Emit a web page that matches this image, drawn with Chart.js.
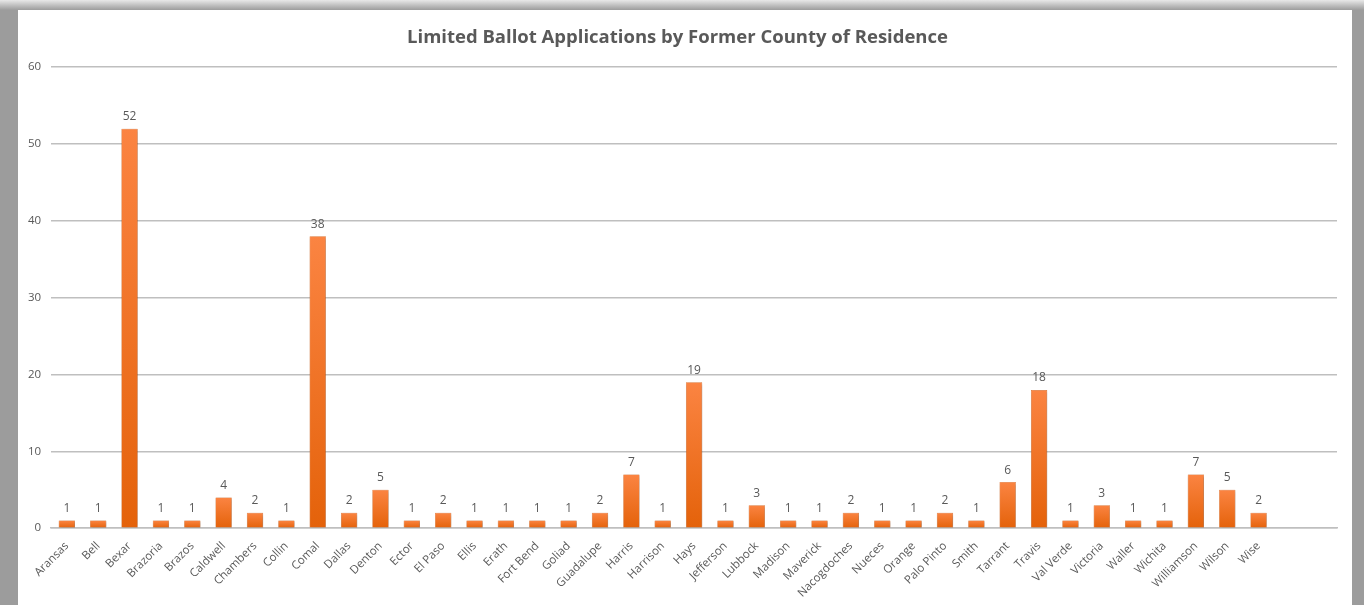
<!DOCTYPE html>
<html lang="en">
<head>
    <meta charset="UTF-8">
    <title>Limited Ballot Applications by Former County of Residence</title>
    <style>
        body {
            margin: 0;
            width: 1364px;
            height: 605px;
            overflow: hidden;
            background: #9c9c9c;
            font-family: 'Open Sans', sans-serif;
        }

        .top-shade {
            position: absolute;
            left: 0;
            top: 0;
            width: 1364px;
            height: 10px;
            background: linear-gradient(#e8e8e8, #9c9c9c);
        }

        .frame {
            position: absolute;
            left: 18px;
            top: 10px;
            width: 1334px;
            height: 595px;
            background: white;
        }
    </style>
    <script src="https://cdn.jsdelivr.net/npm/chart.js"></script>
</head>
<body>
    <div class="top-shade"></div>
    <div class="frame">
        <canvas id="countyChart" width="1334" height="595"></canvas>
    </div>

    <script>
        const counties = ['Aransas', 'Bell', 'Bexar', 'Brazoria', 'Brazos', 'Caldwell', 'Chambers', 'Collin',
            'Comal', 'Dallas', 'Denton', 'Ector', 'El Paso', 'Ellis', 'Erath', 'Fort Bend', 'Goliad',
            'Guadalupe', 'Harris', 'Harrison', 'Hays', 'Jefferson', 'Lubbock', 'Madison', 'Maverick',
            'Nacogdoches', 'Nueces', 'Orange', 'Palo Pinto', 'Smith', 'Tarrant', 'Travis', 'Val Verde',
            'Victoria', 'Waller', 'Wichita', 'Williamson', 'Wilson', 'Wise', '', ''];
        const applications = [1, 1, 52, 1, 1, 4, 2, 1, 38, 2, 5, 1, 2, 1, 1, 1, 1, 2, 7, 1, 19, 1, 3, 1, 1,
            2, 1, 1, 2, 1, 6, 18, 1, 3, 1, 1, 7, 5, 2, null, null];
        const yTicks = [0, 10, 20, 30, 40, 50, 60];

        const textGray = '#595959';

        // bar gradient, light on top, darker at the base
        function barFill(ctx) {
            const chart = ctx.chart;
            const v = ctx.raw;
            if (!chart.chartArea || v == null) return '#f07020';
            const y = chart.scales.y;
            const g = chart.ctx.createLinearGradient(0, y.getPixelForValue(v), 0, y.getPixelForValue(0));
            g.addColorStop(0, '#fb8442');
            g.addColorStop(1, '#e4620a');
            return g;
        }

        const barShadow = {
            id: 'barShadow',
            beforeDatasetsDraw(chart) {
                const c = chart.ctx;
                c.save();
                c.shadowColor = 'rgba(0, 0, 0, 0.35)';
                c.shadowBlur = 3;
                c.shadowOffsetX = 1;
                c.shadowOffsetY = 1;
            },
            afterDatasetsDraw(chart) {
                chart.ctx.restore();
            }
        };

        const valueLabels = {
            id: 'valueLabels',
            afterDatasetsDraw(chart) {
                const c = chart.ctx;
                const meta = chart.getDatasetMeta(0);
                c.save();
                c.font = '12px "Open Sans"';
                c.fillStyle = textGray;
                c.textAlign = 'center';
                c.textBaseline = 'bottom';
                meta.data.forEach((bar, i) => {
                    const v = applications[i];
                    if (v == null) return;
                    c.fillText(v, bar.x, bar.y - 6);
                });
                c.restore();
            }
        };

        new Chart(document.getElementById('countyChart'), {
            type: 'bar',
            data: {
                labels: counties,
                datasets: [{
                    data: applications,
                    backgroundColor: barFill,
                    borderColor: '#d85a08',
                    borderWidth: 0.5,
                    barPercentage: 0.52,
                    categoryPercentage: 1
                }]
            },
            options: {
                responsive: false,
                animation: false,
                layout: { padding: { left: 0, right: 15, top: 6, bottom: 2 } },
                plugins: {
                    legend: { display: false },
                    tooltip: { enabled: false },
                    title: {
                        display: true,
                        text: 'Limited Ballot Applications by Former County of Residence',
                        color: textGray,
                        font: { family: 'Open Sans', size: 18.5, weight: 'bold' },
                        padding: { top: 11, bottom: 18 }
                    }
                },
                scales: {
                    x: {
                        grid: { display: false },
                        border: { color: '#bfbfbf', width: 1.5 },
                        ticks: {
                            color: textGray,
                            font: { family: 'Open Sans', size: 11.5 },
                            minRotation: 45,
                            maxRotation: 45,
                            autoSkip: false,
                            padding: 3
                        }
                    },
                    y: {
                        min: 0,
                        max: 60,
                        afterBuildTicks: (axis) => { axis.ticks = yTicks.map(v => ({ value: v })); },
                        grid: { color: '#bfbfbf', lineWidth: 1.5, drawTicks: false },
                        border: { display: false },
                        ticks: {
                            color: textGray,
                            font: { family: 'Open Sans', size: 11.5 },
                            padding: 10
                        }
                    }
                }
            },
            plugins: [barShadow, valueLabels]
        });
    </script>
</body>
</html>
